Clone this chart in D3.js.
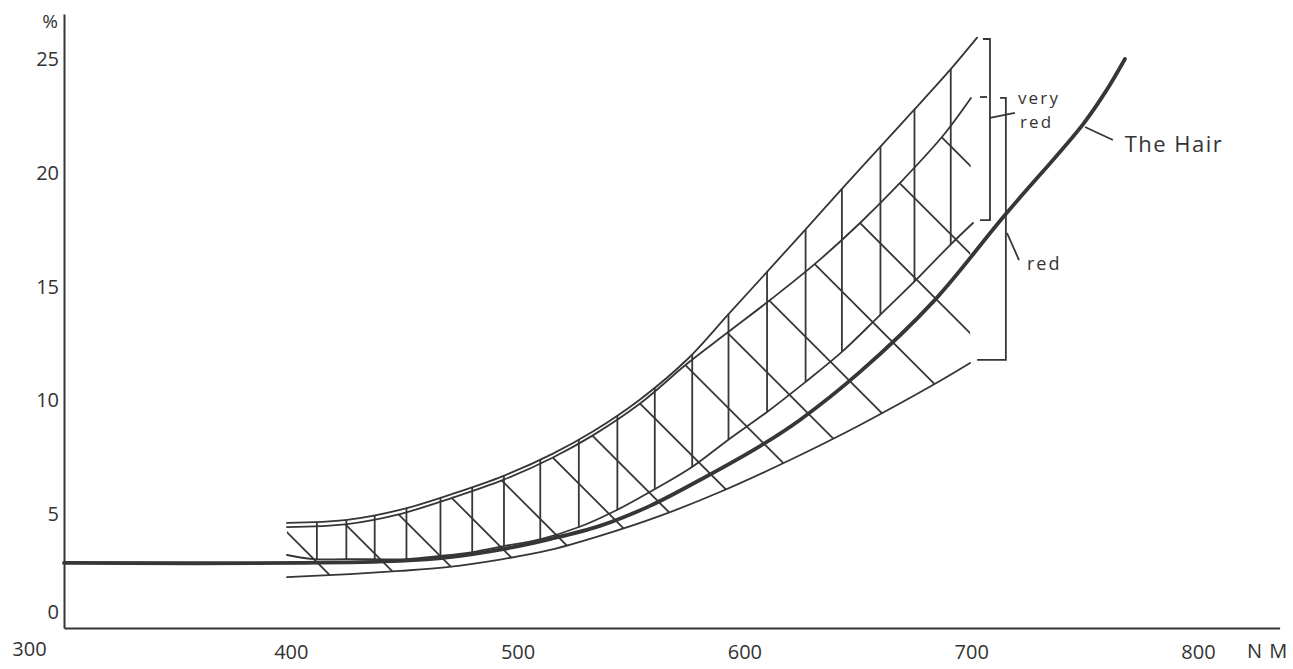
<!DOCTYPE html>
<html>
<head>
<meta charset="utf-8">
<script src="https://cdn.jsdelivr.net/npm/d3@7"></script>
<style>
  html, body { margin: 0; padding: 0; background: #ffffff; }
  svg { display: block; }
  text { font-family: "Open Sans", "DejaVu Sans", sans-serif; fill: #333333; }
</style>
</head>
<body>
<svg id="chart" width="1293" height="669"></svg>
<script>
// Axis ticks: wavelength (nm) and reflectance (%)
const xTicks = [300, 400, 500, 600, 700, 800];
const yTicks = [0, 5, 10, 15, 20, 25];

// Upper edge of the "very red" band
const veryRedTopNm  = [398.3, 424.8, 448.1, 471.1, 493.6, 515.6, 533.2, 554.0, 575.1, 592.8, 610.0, 626.7, 643.0, 659.8, 674.8, 690.7, 702.6];
const veryRedTopPct = [4.62, 4.75, 5.19, 5.89, 6.68, 7.67, 8.64, 10.05, 11.84, 13.78, 15.66, 17.50, 19.31, 21.15, 22.78, 24.54, 25.96];

// Lower edge of the "very red" band
const veryRedLowNm  = [398.3, 409.8, 424.3, 451.2, 466.2, 480.3, 494.4, 510.3, 527.1, 543.8, 560.6, 576.9, 592.8, 610.0, 626.3, 643.0, 659.8, 674.8, 690.7, 700.8];
const veryRedLowPct = [3.21, 3.03, 3.03, 3.03, 3.17, 3.34, 3.61, 3.91, 4.44, 5.19, 6.11, 7.08, 8.27, 9.50, 10.77, 12.14, 13.76, 15.22, 16.84, 17.81];

// Upper edge of the "red" band
const redTopNm  = [398.3, 424.8, 448.1, 471.1, 493.6, 515.6, 533.2, 554.0, 575.1, 592.3, 611.3, 631.1, 651.0, 668.6, 687.1, 699.9];
const redTopPct = [4.44, 4.57, 5.01, 5.72, 6.51, 7.50, 8.47, 9.87, 11.65, 12.97, 14.42, 16.01, 17.81, 19.57, 21.59, 23.31];

// Lower edge of the "red" band
const redLowNm  = [398.3, 426.1, 448.1, 468.9, 493.6, 514.3, 536.3, 562.8, 589.2, 620.1, 651.0, 686.2, 699.5];
const redLowPct = [2.24, 2.37, 2.51, 2.68, 3.03, 3.43, 4.05, 4.93, 5.98, 7.39, 8.93, 10.86, 11.65];

// The hair
const hairNm  = [300, 404.1, 448.1, 470.2, 493.6, 514.3, 536.3, 558.4, 580.4, 606.9, 624.5, 651.0, 683.2, 714.9, 749.3, 759.9, 767.8];
const hairPct = [2.86, 2.86, 2.95, 3.12, 3.47, 3.91, 4.49, 5.37, 6.51, 8.00, 9.15, 11.26, 14.34, 18.16, 22.15, 23.68, 25.02];

// Hatching: vertical strokes across the "very red" band,
// diagonal strokes (starting on the upper "red" edge) across the "red" band
const verticalHatchNm = [411.5, 424.5, 437, 451, 466, 480, 494, 510, 527, 544, 560.5, 577, 593, 610, 627, 643, 660, 675, 691];
const diagonalHatchNm = [396, 424, 447.5, 471, 493, 515.5, 533, 554, 574, 592.5, 611, 631, 651, 668.5, 687];

const INK = '#363636';
const svg = d3.select('#chart');

const x = d3.scaleLinear().domain([300, 836]).range([64, 1279.6]);
const y = d3.scaleLinear().domain([0, 27]).range([628, 14]);

const pts = (nm, pct) => nm.map((d, i) => [x(d), y(pct[i])]);
const smooth = d3.line().curve(d3.curveCatmullRom.alpha(0.5));
const straight = d3.line();

// Closed outline between two curves, used to clip the hatching
function bandPath(topNm, topPct, lowNm, lowPct) {
  const a = smooth(pts(topNm, topPct));
  const b = smooth(pts(lowNm, lowPct).reverse());
  return a + 'L' + b.slice(1) + 'Z';
}

const defs = svg.append('defs');
defs.append('clipPath').attr('id', 'clip-very-red')
  .append('path').attr('d', bandPath(veryRedTopNm, veryRedTopPct, veryRedLowNm, veryRedLowPct));
defs.append('clipPath').attr('id', 'clip-red')
  .append('path').attr('d', bandPath(redTopNm, redTopPct, redLowNm, redLowPct));

// Vertical hatching
svg.append('g').attr('clip-path', 'url(#clip-very-red)')
  .selectAll('line').data(verticalHatchNm).join('line')
  .attr('x1', d => x(d)).attr('x2', d => x(d))
  .attr('y1', 0).attr('y2', 669)
  .attr('stroke', INK).attr('stroke-width', 1.8);

// Diagonal hatching at 45 degrees
const redTopAt = d3.scaleLinear().domain(redTopNm).range(redTopPct).clamp(true);
svg.append('g').attr('clip-path', 'url(#clip-red)')
  .selectAll('line').data(diagonalHatchNm).join('line')
  .each(function (d) {
    const px = x(d), py = y(redTopAt(d));
    d3.select(this)
      .attr('x1', px - 80).attr('y1', py - 80)
      .attr('x2', px + 600).attr('y2', py + 600);
  })
  .attr('stroke', INK).attr('stroke-width', 1.8);

// Band edges
const edges = [
  pts(veryRedTopNm, veryRedTopPct),
  pts(veryRedLowNm, veryRedLowPct),
  pts(redTopNm, redTopPct),
  pts(redLowNm, redLowPct)
];
svg.append('g').selectAll('path').data(edges).join('path')
  .attr('d', smooth)
  .attr('fill', 'none').attr('stroke', INK).attr('stroke-width', 1.8)
  .attr('stroke-linecap', 'round');

// The hair curve
svg.append('path')
  .attr('d', smooth(pts(hairNm, hairPct)))
  .attr('fill', 'none').attr('stroke', INK).attr('stroke-width', 3.8)
  .attr('stroke-linecap', 'round');

// Axes
const xAxis = svg.append('g')
  .attr('transform', `translate(0,${y(0)})`)
  .call(d3.axisBottom(x).tickValues(xTicks).tickSize(0).tickSizeOuter(0).tickPadding(17).tickFormat(d3.format('d')));
const yAxis = svg.append('g')
  .attr('transform', `translate(${x(300)},0)`)
  .call(d3.axisLeft(y).tickValues(yTicks).tickSize(0).tickSizeOuter(0).tickPadding(5).tickFormat(d3.format('d')));

[xAxis, yAxis].forEach(g => {
  g.select('.domain').attr('stroke', INK).attr('stroke-width', 2);
  g.selectAll('text').attr('font-size', 20).attr('fill', '#333')
    .style('font-family', '"Open Sans", "DejaVu Sans", sans-serif');
});
// Origin labels are moved clear of the axis lines
xAxis.selectAll('.tick').filter(d => d === 300).select('text').attr('dx', -35).attr('dy', '0.55em');
yAxis.selectAll('.tick').filter(d => d === 0).select('text').attr('dy', '-0.48em');

svg.append('text').attr('x', 58).attr('y', 28).attr('text-anchor', 'end')
  .attr('font-size', 19).text('%');
svg.append('text').attr('x', 1247).attr('y', 658)
  .attr('font-size', 20).attr('letter-spacing', 1).text('N M');

// Brackets and leader lines
const notes = [
  [[x(705.2), y(25.9)], [x(708.3), y(25.9)], [x(708.3), y(17.94)], [x(703.9), y(17.94)]],
  [[x(712.7), y(23.31)], [x(715.3), y(23.31)], [x(715.3), y(11.79)], [x(702.6), y(11.79)]],
  [[x(703.9), y(23.35)], [x(707.0), y(23.35)]],
  [[x(708.3), y(22.43)], [x(719.3), y(22.65)]],
  [[x(715.8), y(17.37)], [x(721.1), y(16.18)]],
  [[x(750.2), y(22.03)], [x(762.5), y(21.46)]]
];
svg.append('g').selectAll('path').data(notes).join('path')
  .attr('d', straight)
  .attr('fill', 'none').attr('stroke', INK).attr('stroke-width', 1.8);

// Labels
const label = (nm, pct, txt, size, spacing) =>
  svg.append('text').attr('x', x(nm)).attr('y', y(pct))
    .attr('font-size', size).attr('letter-spacing', spacing).text(txt);
label(720.6, 23.05, 'very', 17, 2.2);
label(721.5, 21.99, 'red', 17, 2.2);
label(724.6, 15.74, 'red', 18, 2);
label(767.7, 20.93, 'The Hair', 22, 1.5);
</script>
</body>
</html>
